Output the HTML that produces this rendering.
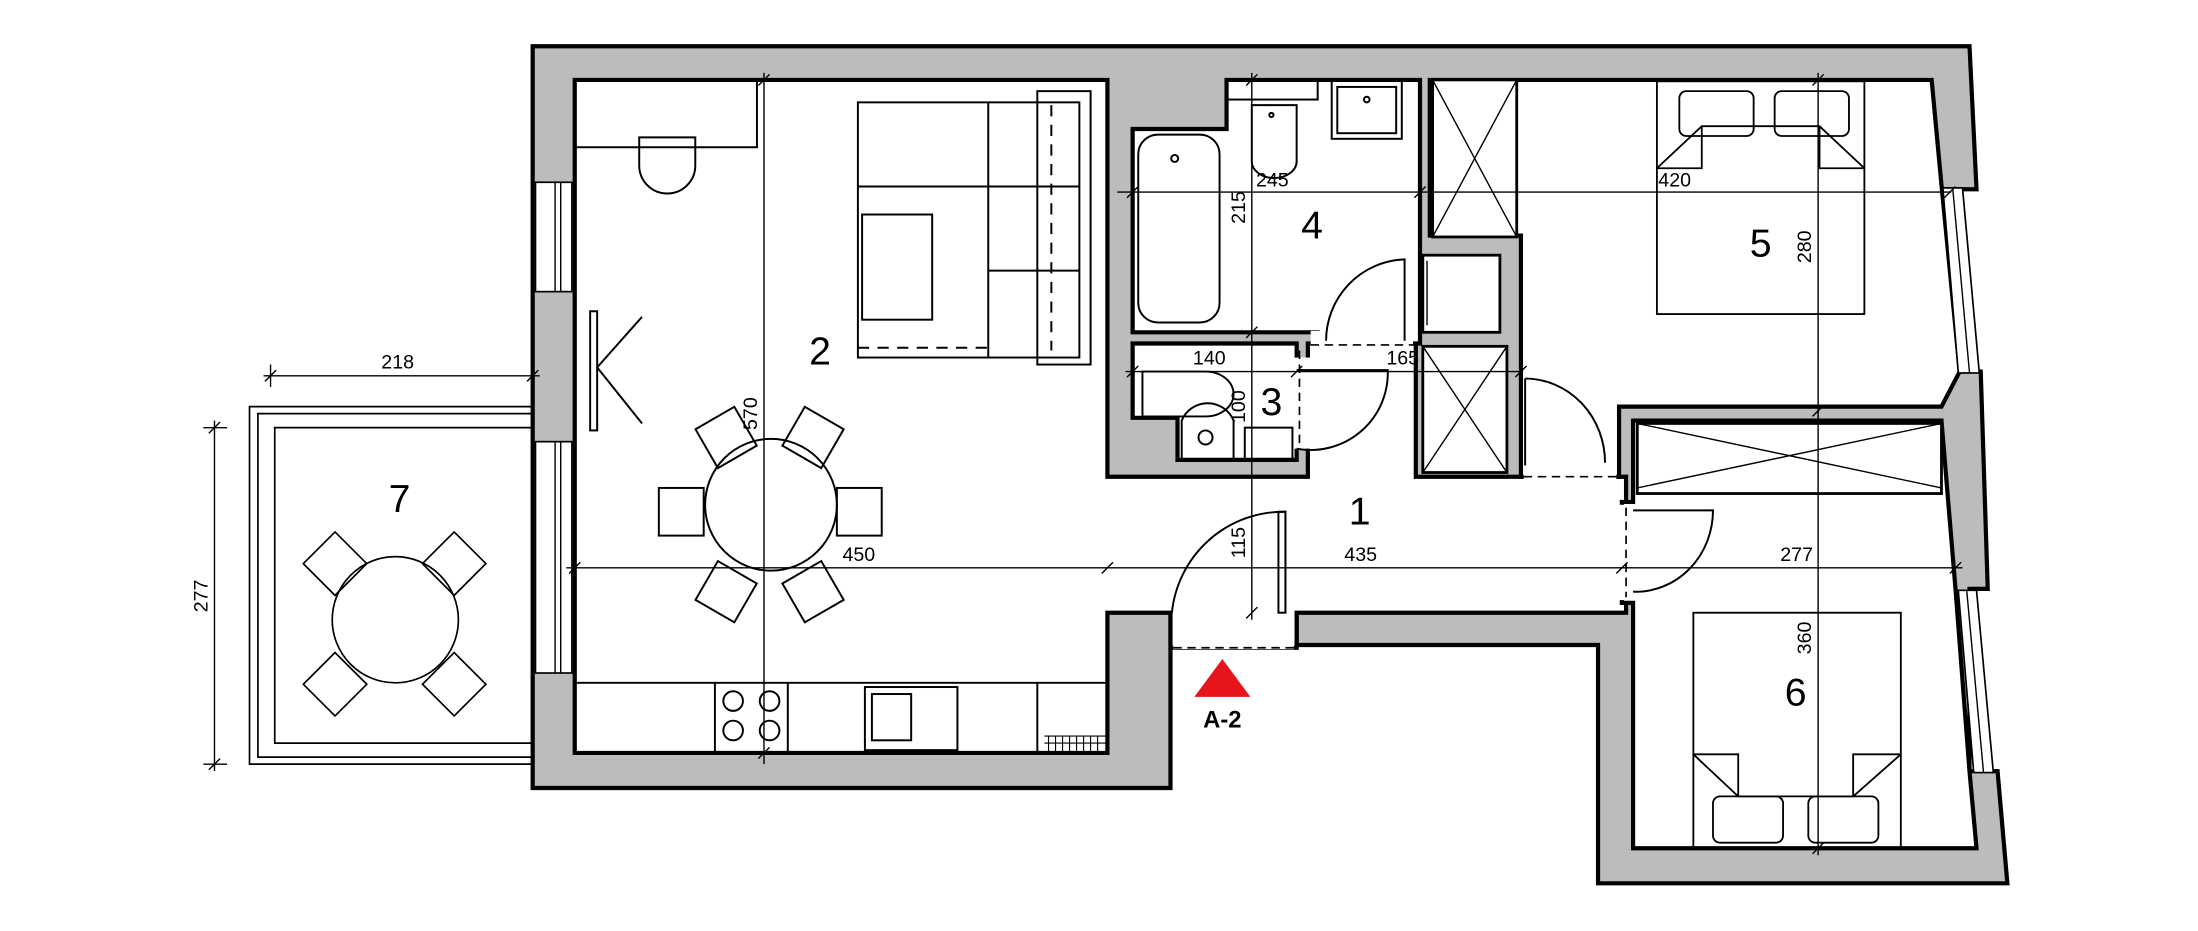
<!DOCTYPE html>
<html><head><meta charset="utf-8"><style>
html,body{margin:0;padding:0;background:#fff;}
svg{display:block;}
text{font-family:"Liberation Sans",sans-serif;fill:#000;}
</style></head><body>
<svg width="2198" height="931" viewBox="0 0 1568 664" preserveAspectRatio="none" xmlns="http://www.w3.org/2000/svg">
<rect width="1568" height="664" fill="#fff"/>
<!-- outer shell -->
<polygon points="380,33 1405,33 1410,135 1385,135 1385,265 1413,265 1418,420 1405,420 1405,550 1425,550 1432,630 1140,630 1140,460 925,460 925,437 835,437 835,562 380,562" fill="#bcbcbc" stroke="#000" stroke-width="3"/>
<!-- rooms interiors -->
<g fill="#fff" stroke="#000" stroke-width="3" stroke-linejoin="miter">
<polygon points="410,57 790,57 790,340 933,340 933,245 1010,245 1010,340 1160,340 1160,437 925,437 925,462 835,462 835,437 790,437 790,537 410,537"/>
<polygon points="1020,57 1378,57 1385,132 1398,265 1385,290 1155,290 1155,340 1085,340 1085,168 1020,168"/>
<polygon points="1165,300 1385,300 1395,420 1405,550 1410,605 1165,605 1165,430 1157,430 1157,358 1165,358"/>
<polygon points="808,92 875,92 875,57 1013,57 1013,245 940,245 940,237 808,237"/>
<polygon points="808,245 925,245 925,328 840,328 840,298 808,298"/>
</g>
<!-- hide stroke in openings -->
<g fill="#fff" stroke="none">
<rect x="837" y="430" width="86" height="33"/>
<rect x="1087" y="335" width="66" height="10"/>
<rect x="1150" y="360" width="20" height="68"/>
<rect x="935" y="236" width="73" height="12"/>
<rect x="920" y="255" width="16" height="65"/>
</g>
<!-- cupboard blocks in wall -->
<g fill="#fff" stroke="#000" stroke-width="2">
<rect x="1015" y="182" width="55" height="55"/>
<rect x="1015" y="247" width="60" height="90"/>
<rect x="1022" y="57" width="60" height="112"/>
<rect x="1168" y="302" width="217" height="50"/>
</g>
<g stroke="#000" stroke-width="1" fill="none">
<line x1="1015" y1="247" x2="1075" y2="337"/><line x1="1075" y1="247" x2="1015" y2="337"/>
<line x1="1022" y1="57" x2="1082" y2="169"/><line x1="1082" y1="57" x2="1022" y2="169"/>
<line x1="1168" y1="302" x2="1385" y2="348"/><line x1="1385" y1="302" x2="1168" y2="348"/>
<line x1="1018" y1="186" x2="1018" y2="232"/>
</g>
<!-- windows -->
<g fill="#fff" stroke="#000" stroke-width="1.2">
<rect x="382" y="130" width="26" height="78"/>
<rect x="382" y="315" width="26" height="165"/>
<polygon points="1386,134 1400,134 1412,266 1397,266"/>
<polygon points="1397,421 1410,421 1422,551 1408,551"/>
</g>
<g stroke="#000" stroke-width="1">
<line x1="396" y1="130" x2="396" y2="208"/><line x1="400" y1="130" x2="400" y2="208"/>
<line x1="396" y1="315" x2="396" y2="480"/><line x1="400" y1="315" x2="400" y2="480"/>
<line x1="1393" y1="134" x2="1405" y2="266"/><line x1="1403" y1="421" x2="1415" y2="551"/>
</g>
<!-- balcony -->
<g fill="none" stroke="#000" stroke-width="1.2">
<polyline points="380,290 178,290 178,545 380,545"/>
<polyline points="380,295 184,295 184,540 380,540"/>
<polyline points="380,305 196,305 196,530 380,530"/>
<circle cx="282" cy="442" r="45"/>
<rect x="223" y="386" width="32" height="32" transform="rotate(45 239 402)"/>
<rect x="308" y="386" width="32" height="32" transform="rotate(45 324 402)"/>
<rect x="223" y="472" width="32" height="32" transform="rotate(45 239 488)"/>
<rect x="308" y="472" width="32" height="32" transform="rotate(45 324 488)"/>
</g>
<!-- living furniture -->
<g fill="none" stroke="#000" stroke-width="1.4">
<polyline points="410,105 540,105 540,57"/>
<path d="M456,98 H496 V118 A20,20 0 0 1 456,118 Z"/>
<rect x="740" y="65" width="38" height="195"/>
<rect x="612" y="73" width="158" height="182"/>
<line x1="705" y1="73" x2="705" y2="255"/>
<line x1="612" y1="133" x2="770" y2="133"/>
<line x1="705" y1="193" x2="770" y2="193"/>
<rect x="615" y="153" width="50" height="75"/>
<line x1="612" y1="248" x2="705" y2="248" stroke-dasharray="8,6" stroke="#000"/>
<line x1="750" y1="75" x2="750" y2="250" stroke-dasharray="8,6"/>
<rect x="421" y="222" width="5" height="85"/>
<line x1="426" y1="262" x2="458" y2="226"/><line x1="426" y1="262" x2="458" y2="302"/>
<circle cx="550" cy="360" r="47"/>
<rect x="470" y="348" width="32" height="34"/>
<rect x="597" y="348" width="32" height="34"/>
<rect x="502" y="296" width="32" height="32" transform="rotate(-30 518 312)"/>
<rect x="564" y="296" width="32" height="32" transform="rotate(30 580 312)"/>
<rect x="502" y="406" width="32" height="32" transform="rotate(30 518 422)"/>
<rect x="564" y="406" width="32" height="32" transform="rotate(-30 580 422)"/>
<line x1="410" y1="487" x2="790" y2="487"/>
<line x1="510" y1="487" x2="510" y2="537"/><line x1="562" y1="487" x2="562" y2="537"/>
<circle cx="523" cy="500" r="7"/><circle cx="549" cy="500" r="7"/>
<circle cx="523" cy="521" r="7"/><circle cx="549" cy="521" r="7"/>
<rect x="617" y="490" width="66" height="45"/>
<rect x="622" y="495" width="28" height="33"/>
<line x1="740" y1="487" x2="740" y2="537"/>
<path d="M745,525 H790 M745,530 H790 M748,525 V537 M753,525 V537 M758,525 V537 M763,525 V537 M768,525 V537 M773,525 V537 M778,525 V537 M783,525 V537" stroke-width="0.8"/>
</g>
<!-- baths -->
<g fill="none" stroke="#000" stroke-width="1.4">
<rect x="812" y="96" width="58" height="134" rx="14"/>
<circle cx="838" cy="113" r="2.5"/>
<rect x="875" y="57" width="65" height="14"/>
<path d="M893,75 H925 V115 A16,12 0 0 1 893,115 Z"/>
<circle cx="907" cy="82" r="1.5"/>
<rect x="950" y="57" width="50" height="42"/>
<rect x="954" y="62" width="42" height="33"/>
<circle cx="975" cy="71" r="2"/>
<path d="M815,265 H860 A20,16 0 0 1 860,297 H815 Z"/>
<path d="M843,300 A20,20 0 0 1 880,300 V328 H843 Z"/>
<circle cx="860" cy="312" r="5"/>
<rect x="888" y="305" width="34" height="23"/>
<path d="M946,243 A58,58 0 0 1 1002,185 V243" />
<path d="M925,320 A55,55 0 0 0 990,264 H925"/>
<path d="M1088,270 A57,60 0 0 1 1145,330"/>
<line x1="1088" y1="270" x2="1088" y2="332"/>
<path d="M1165,364 H1222 A55,58 0 0 1 1165,422"/>
<path d="M836,437 A80,80 0 0 1 917,365 V437"/>
<rect x="912" y="365" width="5" height="72"/>
</g>
<g fill="none" stroke="#000" stroke-width="1.2" stroke-dasharray="6,4">
<line x1="837" y1="462" x2="923" y2="462"/>
<line x1="935" y1="246" x2="1008" y2="246"/>
<line x1="1087" y1="340" x2="1155" y2="340"/>
<line x1="1160" y1="362" x2="1160" y2="426"/>
<line x1="927" y1="250" x2="927" y2="318"/>
</g>
<!-- beds -->
<g fill="none" stroke="#000" stroke-width="1.3">
<rect x="1182" y="58" width="148" height="166"/>
<rect x="1198" y="65" width="53" height="32" rx="5"/>
<rect x="1266" y="65" width="53" height="32" rx="5"/>
<polyline points="1182,120 1214,90 1298,90 1330,120"/>
<polyline points="1214,90 1214,120 1182,120"/><polyline points="1298,90 1298,120 1330,120"/>
<rect x="1208" y="437" width="148" height="168"/>
<rect x="1222" y="568" width="50" height="33" rx="5"/>
<rect x="1290" y="568" width="50" height="33" rx="5"/>
<polyline points="1208,538 1240,538 1240,568 1322,568 1322,538 1356,538"/>
<line x1="1208" y1="538" x2="1240" y2="568"/><line x1="1356" y1="538" x2="1322" y2="568"/>
</g>
<!-- dimension lines -->
<g stroke="#000" stroke-width="1">
<line x1="545" y1="52" x2="545" y2="545"/>
<line x1="404" y1="405" x2="1400" y2="405"/>
<line x1="893" y1="52" x2="893" y2="442"/>
<line x1="797" y1="137" x2="1392" y2="137"/>
<line x1="803" y1="265" x2="1085" y2="265"/>
<line x1="1297" y1="52" x2="1297" y2="610"/>
<line x1="188" y1="268" x2="385" y2="268"/>
<line x1="153" y1="300" x2="153" y2="550"/>
<line x1="145" y1="305" x2="162" y2="305"/><line x1="145" y1="545" x2="162" y2="545"/>
<line x1="193" y1="260" x2="193" y2="276"/>
</g>
<g stroke="#000" stroke-width="1">
<path d="M406,409 l8,-8 M786,409 l8,-8 M1153,409 l8,-8 M1391,409 l8,-8 M541,61 l8,-8 M541,541 l8,-8 M889,61 l8,-8 M889,241 l8,-8 M889,441 l8,-8 M804,141 l8,-8 M1009,141 l8,-8 M1387,141 l8,-8 M804,269 l8,-8 M921,269 l8,-8 M1081,269 l8,-8 M1293,61 l8,-8 M1293,297 l8,-8 M1293,609 l8,-8 M376,272 l8,-8 M189,272 l8,-8 M149,309 l8,-8 M149,549 l8,-8"/>
</g>
<!-- texts -->
<g font-size="14">
<text x="272" y="263">218</text>
<text x="601" y="400">450</text>
<text x="959" y="400">435</text>
<text x="1270" y="400">277</text>
<text x="896" y="133">245</text>
<text x="1183" y="133">420</text>
<text x="851" y="260">140</text>
<text x="989" y="260">165</text>
<text transform="translate(148,425) rotate(-90)" text-anchor="middle">277</text>
<text transform="translate(540,295) rotate(-90)" text-anchor="middle">570</text>
<text transform="translate(888,148) rotate(-90)" text-anchor="middle">215</text>
<text transform="translate(888,290) rotate(-90)" text-anchor="middle">100</text>
<text transform="translate(888,387) rotate(-90)" text-anchor="middle">115</text>
<text transform="translate(1292,176) rotate(-90)" text-anchor="middle">280</text>
<text transform="translate(1292,455) rotate(-90)" text-anchor="middle">360</text>
</g>
<g font-size="28" text-anchor="middle">
<text x="585" y="260">2</text>
<text x="936" y="170">4</text>
<text x="907" y="296">3</text>
<text x="970" y="374">1</text>
<text x="1256" y="183">5</text>
<text x="1281" y="503">6</text>
<text x="285" y="365">7</text>
</g>
<polygon points="872,470 892,497 852,497" fill="#e8141b"/>
<text x="872" y="519" font-size="17" font-weight="bold" text-anchor="middle">A-2</text>
</svg>
</body></html>
